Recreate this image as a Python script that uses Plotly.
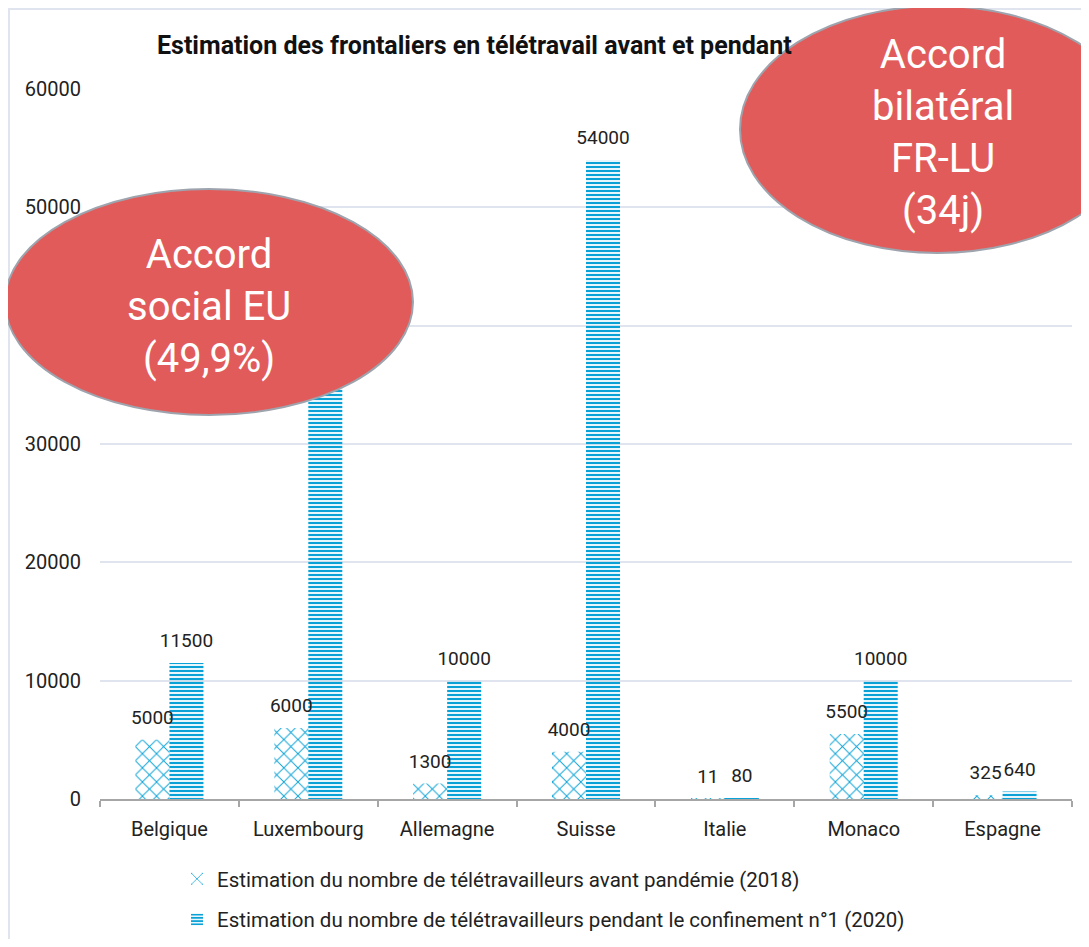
import plotly.graph_objects as go

categories = ["Belgique", "Luxembourg", "Allemagne", "Suisse", "Italie", "Monaco", "Espagne"]
avant_2018 = [5000, 6000, 1300, 4000, 11, 5500, 325]
pendant_2020 = [11500, 40000, 10000, 54000, 80, 10000, 640]
y_ticks = [0, 10000, 20000, 30000, 40000, 50000, 60000]

name1 = "Estimation du nombre de télétravailleurs avant pandémie (2018)"
name2 = "Estimation du nombre de télétravailleurs pendant le confinement n°1 (2020)"
title_text = "Estimation des frontaliers en télétravail avant et pendant"

BLUE = "#0aa2d6"
FONT = "Roboto"
OFF = 8  # page body margin
W, H = 1089 - OFF, 947 - 2 * OFF
# plot area in target (screenshot) pixels
PL, PR, PT, PB = 100, 1072, 89, 799
L, T = PL - OFF, PT - OFF
R = W - (PR - OFF)
B = H - (PB - OFF)
PW, PH = W - L - R, H - T - B
BARGAP = 0.51


def px_x(p):
    return (p - OFF - L) / PW


def px_y(p):
    return (H - B - (p - OFF)) / PH


fig = go.Figure()
fig.add_trace(go.Bar(
    x=categories, y=avant_2018, name=name1, legendgroup="a", offsetgroup="a",
    marker=dict(color=BLUE, line=dict(width=0),
                pattern=dict(shape="x", size=10, solidity=0.18, fgcolor=BLUE, fillmode="replace")),
    hoverinfo="skip",
))
fig.add_trace(go.Bar(
    x=categories, y=pendant_2020, name=name2, legendgroup="b", offsetgroup="b",
    marker=dict(color=BLUE, line=dict(width=0),
                pattern=dict(shape="-", size=4, solidity=0.55, fgcolor=BLUE, fillmode="replace")),
    hoverinfo="skip",
))
# value labels above the bars (drawn under the ellipses)
for series, grp in ((avant_2018, "a"), (pendant_2020, "b")):
    fig.add_trace(go.Scatter(
        x=categories, y=series, text=[str(v) for v in series], mode="markers+text",
        offsetgroup=grp, textposition="top center", showlegend=False, hoverinfo="skip",
        marker=dict(size=16, color="rgba(0,0,0,0)"), cliponaxis=False,
        textfont=dict(family=FONT, size=19, color="#222"),
    ))

shapes = [
    # chart frame
    dict(type="rect", xref="paper", yref="paper",
         x0=px_x(OFF + 1), x1=px_x(1300), y0=px_y(OFF + 1), y1=px_y(1100),
         line=dict(color="#dfe4ee", width=2), fillcolor="rgba(0,0,0,0)", layer="below"),
    # left ellipse
    dict(type="circle", xref="paper", yref="paper",
         x0=px_x(5), x1=px_x(413), y0=px_y(189), y1=px_y(415),
         fillcolor="#e25b5b", line=dict(color="#9ea4ad", width=2), layer="above"),
    # right ellipse
    dict(type="circle", xref="paper", yref="paper",
         x0=px_x(740), x1=px_x(1135), y0=px_y(6), y1=px_y(253),
         fillcolor="#e25b5b", line=dict(color="#9ea4ad", width=2), layer="above"),
]

annotations = [
    dict(xref="paper", yref="paper", x=px_x(209), y=px_y(306), text="Accord<br>social EU<br>(49,9%)",
         showarrow=False, font=dict(family=FONT, size=40, color="white"), align="center",
         xanchor="center", yanchor="middle"),
    dict(xref="paper", yref="paper", x=px_x(943), y=px_y(132), text="Accord<br>bilatéral<br>FR-LU<br>(34j)",
         showarrow=False, font=dict(family=FONT, size=40, color="white"), align="center",
         xanchor="center", yanchor="middle"),
]

fig.update_layout(
    width=W, height=H,
    margin=dict(l=L, r=R, t=T, b=B, autoexpand=False),
    paper_bgcolor="white", plot_bgcolor="white",
    barmode="group", bargap=BARGAP, bargroupgap=0,
    scattermode="group", scattergap=BARGAP,
    title=dict(text="<b>" + title_text + "</b>",
               xref="container", yref="container", x=(157 - OFF) / W, y=1 - (45 - OFF) / H,
               xanchor="left", yanchor="middle",
               font=dict(family=FONT, size=25, color="#111")),
    font=dict(family=FONT, size=20, color="#222"),
    xaxis=dict(showline=True, linecolor="#a6a6a6", linewidth=2, ticks="outside",
               tickson="boundaries", ticklen=6, tickcolor="#a6a6a6", tickwidth=2,
               showgrid=False, ticklabelstandoff=11,
               tickfont=dict(family=FONT, size=20, color="#222")),
    yaxis=dict(range=[0, 60000], tickvals=y_ticks, ticktext=[str(v) for v in y_ticks],
               showgrid=True, gridcolor="#dfe4ee", gridwidth=2, zeroline=False,
               showline=False, ticks="", ticklabelstandoff=18,
               tickfont=dict(family=FONT, size=20, color="#222")),
    legend=dict(orientation="v", x=px_x(177), y=px_y(859), xanchor="left", yanchor="top",
                font=dict(family=FONT, size=20.5, color="#222"), tracegroupgap=11,
                bgcolor="rgba(0,0,0,0)", itemwidth=30),
    shapes=shapes,
    annotations=annotations,
)

fig.write_html("out.html")
